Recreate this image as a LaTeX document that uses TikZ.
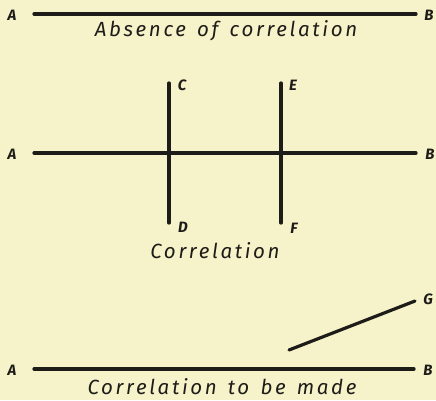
\documentclass[tikz,border=0pt]{standalone}
\usepackage{fontspec}
\setmainfont{Fira Sans}
\newfontfamily\capfont[LetterSpace=13,WordSpace=1.4]{Fira Sans}
\definecolor{paper}{RGB}{246,243,202}
\definecolor{ink}{RGB}{30,28,24}
\begin{document}
\begin{tikzpicture}[x=1pt,y=-1pt,
  bar/.style={draw=ink,line width=3.2pt,line cap=round},
  letter/.style={text=ink,font=\fontsize{15}{15}\selectfont\itshape\bfseries,inner sep=0pt},
  caption/.style={text=ink,font=\fontsize{20.5}{20.5}\selectfont\capfont\itshape,inner sep=0pt}]
\useasboundingbox (0,0) rectangle (436,400);
\fill[paper] (0,0) rectangle (436,400);
% top
\coordinate (a1) at (34,14);
\coordinate (b1) at (416,14);
\node[letter] (A1) at (12,15) {A};
\node[letter] (B1) at (429,15) {B};
\draw[bar] (a1) -- (b1);
\node[caption] (t1) at (226,31) {Absence of correlation};
% middle
\coordinate (a2) at (34,153);
\coordinate (b2) at (416,153);
\coordinate (c) at (169,83);
\coordinate (d) at (169,223);
\coordinate (e) at (281,83);
\coordinate (f) at (281,223);
\node[letter] (A2) at (12,154) {A};
\node[letter] (B2) at (430,154) {B};
\node[letter] (C) at (182,85) {C};
\node[letter] (D) at (183,227) {D};
\node[letter] (E) at (293,85) {E};
\node[letter] (F) at (294,228) {F};
\draw[bar] (a2) -- (b2);
\draw[bar] (c) -- (d);
\draw[bar] (e) -- (f);
\node[caption] (t2) at (215,251) {Correlation};
% bottom
\coordinate (a3) at (34,369);
\coordinate (b3) at (414,369);
\coordinate (g0) at (289,350);
\coordinate (g) at (415,301);
\node[letter] (A3) at (12,370) {A};
\node[letter] (B3) at (428,370) {B};
\node[letter] (G) at (428,299) {G};
\draw[bar] (a3) -- (b3);
\draw[bar] (g0) -- (g);
\node[caption] (t3) at (222,386.5) {Correlation to be made};
\end{tikzpicture}
\end{document}
